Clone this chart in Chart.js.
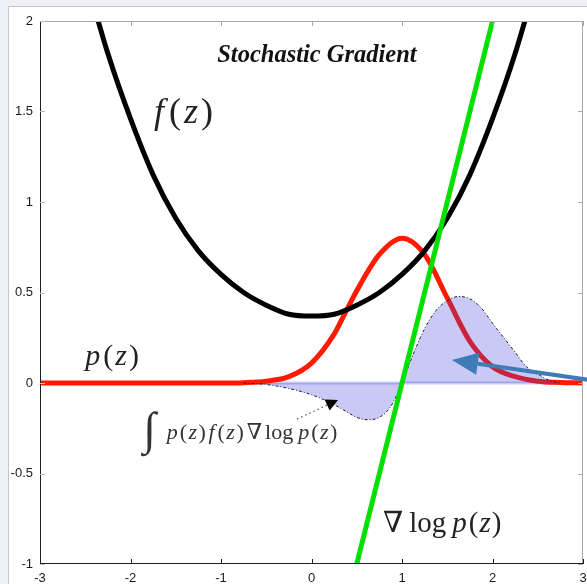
<!DOCTYPE html>
<html>
<head>
<meta charset="utf-8">
<script src="https://cdn.jsdelivr.net/npm/chart.js@4.4.1/dist/chart.umd.min.js"></script>
<style>
  body { margin: 0; width: 587px; height: 584px; overflow: hidden; position: relative; background: #eef0f5; }
  .panel { position: absolute; left: 8px; top: 6px; width: 600px; height: 600px; background: #fff; border: 1px solid #c6c6c6; }
  #chart { position: absolute; left: 0; top: 0; }
</style>
</head>
<body>
<div class="panel"></div>
<canvas id="chart" width="587" height="584"></canvas>
<script>
// tick labels
const xTicks = [-3, -2, -1, 0, 1, 2, 3];
const yTicks = [-1, -0.5, 0, 0.5, 1, 1.5, 2];

// f(z), black
const fZ = [-2.5, -2.25, -2, -1.75, -1.5, -1.25, -1, -0.75, -0.5, -0.25, 0, 0.25, 0.5, 0.75, 1, 1.25, 1.5, 1.75, 2, 2.25, 2.5];
const fVals = [2.25, 1.82, 1.46, 1.15, 0.91, 0.73, 0.60, 0.50, 0.43, 0.38, 0.37, 0.38, 0.43, 0.50, 0.60, 0.73, 0.91, 1.15, 1.46, 1.82, 2.25];

// p(z), red
const pZ = [-3, -1, -0.75, -0.5, -0.25, 0, 0.25, 0.375, 0.5, 0.75, 1, 1.25, 1.5, 1.75, 2, 2.25, 2.5, 2.75, 3];
const pVals = [0, 0, 0.002, 0.01, 0.035, 0.11, 0.27, 0.39, 0.51, 0.71, 0.80, 0.71, 0.47, 0.23, 0.09, 0.035, 0.01, 0.003, 0];

// grad log p(z), green
const gZ = [0.45, 2.05];
const gVals = [-1.1, 2.1];

// p(z) f(z) grad log p(z), shaded
const sZ = [-0.75, -0.5, -0.25, 0, 0.125, 0.25, 0.375, 0.5, 0.625, 0.75, 0.875, 1, 1.125, 1.25, 1.375, 1.5, 1.625, 1.75, 1.875, 2, 2.125, 2.25, 2.375, 2.5, 2.625, 2.75];
const sVals = [0, -0.008, -0.03, -0.065, -0.09, -0.12, -0.155, -0.19, -0.203, -0.19, -0.13, 0, 0.16, 0.30, 0.40, 0.455, 0.478, 0.465, 0.415, 0.33, 0.25, 0.17, 0.09, 0.05, 0.015, 0];

// lavender strip along zero
const baseZ = [-0.7, 3];
const baseVals = [0, 0];

const zip = (xs, ys) => xs.map((x, i) => ({ x: x, y: ys[i] }));

const SERIF = '"Liberation Serif", "DejaVu Serif", serif';
const SHADE = 'rgba(60,60,220,0.28)';

function mathText(ctx, parts, x0, y0, size) {
  let x = x0;
  for (const [t, style, gap] of parts) {
    ctx.font = `${style} ${size}px ${SERIF}`;
    ctx.fillText(t, x, y0);
    x += ctx.measureText(t).width + (gap || 0);
  }
}

function arrow(ctx, x1, y1, x2, y2, len, half) {
  const a = Math.atan2(y2 - y1, x2 - x1);
  const bx = x2 - len * Math.cos(a), by = y2 - len * Math.sin(a);
  ctx.beginPath();
  ctx.moveTo(x1, y1);
  ctx.lineTo(bx, by);
  ctx.stroke();
  ctx.setLineDash([]);
  ctx.beginPath();
  ctx.moveTo(x2, y2);
  ctx.lineTo(bx + half * Math.sin(a), by - half * Math.cos(a));
  ctx.lineTo(bx - half * Math.sin(a), by + half * Math.cos(a));
  ctx.closePath();
  ctx.fill();
}

const frame = {
  id: 'frame',
  afterDatasetsDraw(chart) {
    const { ctx, chartArea: a, scales: { x, y } } = chart;
    ctx.save();
    ctx.lineWidth = 1;
    // top / right in light gray
    ctx.strokeStyle = '#a9a9a9';
    ctx.beginPath();
    ctx.moveTo(a.left, a.top + 0.5);
    ctx.lineTo(a.right - 0.5, a.top + 0.5);
    ctx.lineTo(a.right - 0.5, a.bottom);
    ctx.stroke();
    xTicks.forEach(v => {
      const px = Math.round(x.getPixelForValue(v)) + 0.5;
      ctx.beginPath(); ctx.moveTo(px, a.top); ctx.lineTo(px, a.top + 5); ctx.stroke();
    });
    yTicks.forEach(v => {
      const py = Math.round(y.getPixelForValue(v)) + 0.5;
      ctx.beginPath(); ctx.moveTo(a.right, py); ctx.lineTo(a.right - 5, py); ctx.stroke();
    });
    // left / bottom dark
    ctx.strokeStyle = '#1e1e1e';
    ctx.beginPath();
    ctx.moveTo(a.left + 0.5, a.top);
    ctx.lineTo(a.left + 0.5, a.bottom - 0.5);
    ctx.lineTo(a.right, a.bottom - 0.5);
    ctx.stroke();
    xTicks.forEach(v => {
      const px = Math.round(x.getPixelForValue(v)) + 0.5;
      ctx.beginPath(); ctx.moveTo(px, a.bottom); ctx.lineTo(px, a.bottom - 5); ctx.stroke();
    });
    ctx.strokeStyle = '#bbb';
    yTicks.forEach(v => {
      const py = Math.round(y.getPixelForValue(v)) + 0.5;
      ctx.beginPath(); ctx.moveTo(a.left, py); ctx.lineTo(a.left + 5, py); ctx.stroke();
    });
    ctx.restore();
  }
};

const notes = {
  id: 'notes',
  afterDatasetsDraw(chart) {
    const { ctx, scales: { x, y } } = chart;
    const X = v => x.getPixelForValue(v), Y = v => y.getPixelForValue(v);
    ctx.save();
    ctx.textBaseline = 'middle';

    ctx.fillStyle = '#111';
    ctx.textAlign = 'center';
    ctx.font = `italic bold 24.5px ${SERIF}`;
    ctx.fillText('Stochastic Gradient', X(0.06), Y(1.81));

    ctx.textAlign = 'left';
    ctx.fillStyle = '#222';
    mathText(ctx, [['f', 'italic', 5], ['(', 'normal', 3], ['z', 'italic', 3], [')', 'normal']], X(-1.74), Y(1.49), 36);
    mathText(ctx, [['p', 'italic', 3], ['(', 'normal', 2], ['z', 'italic', 2], [')', 'normal']], X(-2.5), Y(0.145), 30);
    mathText(ctx, [['\u2207', 'normal', 6], ['log', 'normal', 6], ['p', 'italic', 2], ['(', 'normal', 1], ['z', 'italic', 1], [')', 'normal']], X(0.79), Y(-0.78), 29);

    ctx.fillStyle = '#333';
    mathText(ctx, [['\u222B', 'normal']], X(-1.86), Y(-0.27), 46);
    mathText(ctx, [['p', 'italic', 2], ['(', 'normal', 1.5], ['z', 'italic', 1.5], [')', 'normal', 2.5],
                   ['f', 'italic', 3], ['(', 'normal', 1.5], ['z', 'italic', 1.5], [')', 'normal', 3],
                   ['\u2207', 'normal', 3], ['log', 'normal', 5], ['p', 'italic', 2], ['(', 'normal', 1.5], ['z', 'italic', 1.5], [')', 'normal']],
             X(-1.6), Y(-0.275), 22);

    // dotted pointer to the shaded curve
    ctx.strokeStyle = '#555';
    ctx.fillStyle = '#000';
    ctx.lineWidth = 1.2;
    ctx.setLineDash([1.5, 3]);
    arrow(ctx, X(-0.16), Y(-0.199), X(0.293), Y(-0.094), 12, 6);

    // blue arrow coming in from the right
    ctx.strokeStyle = '#3f7bb6';
    ctx.fillStyle = '#3f7bb6';
    ctx.lineWidth = 4;
    ctx.setLineDash([]);
    arrow(ctx, X(3.066), Y(0.017), X(1.552), Y(0.127), 26, 11);
    ctx.restore();
  }
};

const tickFont = { family: '"Liberation Sans", Arial, sans-serif', size: 13 };

new Chart(document.getElementById('chart'), {
  type: 'line',
  data: {
    datasets: [
      { data: zip(gZ, gVals), borderColor: '#00e000', borderWidth: 5, order: 1 },
      { data: zip(fZ, fVals), borderColor: '#000', borderWidth: 5, order: 2, cubicInterpolationMode: 'monotone' },
      { data: zip(sZ, sVals), borderColor: '#1a1a33', borderWidth: 1, borderDash: [3, 2, 1, 2],
        backgroundColor: SHADE, fill: 'origin', order: 3, cubicInterpolationMode: 'monotone' },
      { data: zip(pZ, pVals), borderColor: '#ff1a00', borderWidth: 5, order: 4, cubicInterpolationMode: 'monotone' },
      { data: zip(baseZ, baseVals), borderColor: SHADE, borderWidth: 3, order: 5 }
    ]
  },
  options: {
    responsive: false,
    devicePixelRatio: 1,
    animation: false,
    clip: 0,
    elements: { point: { radius: 0 }, line: { fill: false } },
    layout: { padding: { top: 21, right: 4, left: 0, bottom: 0 } },
    plugins: { legend: { display: false }, tooltip: { enabled: false } },
    scales: {
      x: {
        type: 'linear', min: -3, max: 3,
        afterBuildTicks: s => { s.ticks = xTicks.map(v => ({ value: v })); },
        afterFit: s => { s.height = 20; s.paddingLeft = 0; s.paddingRight = 0; },
        grid: { display: false, drawTicks: false },
        border: { display: false },
        ticks: { padding: 7, color: '#1a1a1a', font: tickFont, maxRotation: 0, callback: v => String(v) }
      },
      y: {
        type: 'linear', min: -1, max: 2,
        afterBuildTicks: s => { s.ticks = yTicks.map(v => ({ value: v })); },
        afterFit: s => { s.width = 40; s.paddingTop = 0; s.paddingBottom = 0; },
        grid: { display: false, drawTicks: false },
        border: { display: false },
        ticks: { padding: 7, color: '#1a1a1a', font: tickFont, callback: v => String(v) }
      }
    }
  },
  plugins: [frame, notes]
});
</script>
</body>
</html>
